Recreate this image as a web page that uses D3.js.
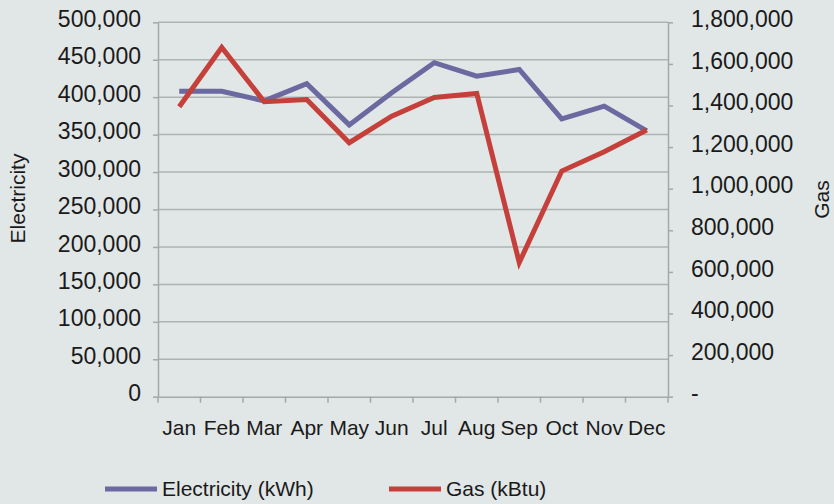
<!DOCTYPE html>
<html>
<head>
<meta charset="utf-8">
<script src="https://cdn.jsdelivr.net/npm/d3@7"></script>
<style>
  body { margin: 0; background: #e1e6e6; }
  svg { display: block; font-family: "Liberation Sans", Arial, sans-serif; }
</style>
</head>
<body>
<svg></svg>
<script>
// Defining variables
const width = 834
const height = 504
const plotLeft = 158
const plotRight = 668
const plotTop = 22.3
const plotBottom = 396.7

const months = ['Jan', 'Feb', 'Mar', 'Apr', 'May', 'Jun', 'Jul', 'Aug', 'Sep', 'Oct', 'Nov', 'Dec']
const electricity = [408000, 408000, 395000, 418000, 363000, 406000, 446000, 428000, 437000, 371000, 388000, 355000]
const gas = [1394000, 1679000, 1418000, 1429000, 1221000, 1349000, 1439000, 1458000, 645000, 1085000, 1178000, 1282000]
const elecTicks = [0, 50000, 100000, 150000, 200000, 250000, 300000, 350000, 400000, 450000, 500000]
const gasTicks = [0, 200000, 400000, 600000, 800000, 1000000, 1200000, 1400000, 1600000, 1800000]
const seriesNames = ['Electricity (kWh)', 'Gas (kBtu)']

const elecColor = '#6a69a0'
const gasColor = '#c5403a'
const gridColor = '#adb2b2'
const textColor = '#1a1a1a'
const fontSize = 21
const tickFontSize = 23

// Creating svg canvas
const svg = d3.select('svg')
                .attr('width', width)
                .attr('height', height)

// Scales
const xScale = d3.scaleBand()
                .domain(months)
                .range([plotLeft, plotRight])
                .padding(0)

const yLeft = d3.scaleLinear()
                .domain([0, 500000])
                .range([plotBottom, plotTop])

const yRight = d3.scaleLinear()
                .domain([0, 1800000])
                .range([plotBottom, plotTop])

const fmt = d3.format(',')

// Gridlines
svg.append('g')
    .selectAll('line')
    .data(elecTicks.filter(d => d > 0))
    .enter()
    .append('line')
    .attr('x1', plotLeft)
    .attr('x2', plotRight)
    .attr('y1', d => yLeft(d))
    .attr('y2', d => yLeft(d))
    .attr('stroke', gridColor)
    .attr('stroke-width', 1.5)

let styleAxis = (g, size) => {
    g.select('.domain').attr('stroke', '#a3a8a8').attr('stroke-width', 1.5)
    g.selectAll('.tick line').attr('stroke', '#a3a8a8').attr('stroke-width', 1.5)
    g.selectAll('text')
        .attr('fill', textColor)
        .style('font-size', size + 'px')
}

// Left axis
let yAxisLeft = d3.axisLeft(yLeft)
                .tickValues(elecTicks)
                .tickFormat(fmt)
                .tickSizeInner(5)
                .tickSizeOuter(0)
                .tickPadding(12)
svg.append('g')
    .attr('id', 'y-axis-left')
    .attr('transform', 'translate(' + plotLeft + ', 0)')
    .call(yAxisLeft)
    .call(styleAxis, tickFontSize)
    .selectAll('text').attr('dy', '0.18em')

// Right axis
let yAxisRight = d3.axisRight(yRight)
                .tickValues(gasTicks)
                .tickFormat(d => d === 0 ? '-' : fmt(d))
                .tickSizeInner(5)
                .tickSizeOuter(0)
                .tickPadding(18)
svg.append('g')
    .attr('id', 'y-axis-right')
    .attr('transform', 'translate(' + plotRight + ', 0)')
    .call(yAxisRight)
    .call(styleAxis, tickFontSize)
    .selectAll('text').attr('dy', '0.18em')

// Bottom axis, ticks between categories
let xAxis = d3.axisBottom(xScale).tickSize(0).tickPadding(0)
let xg = svg.append('g')
    .attr('id', 'x-axis')
    .attr('transform', 'translate(0, ' + plotBottom + ')')
    .call(xAxis)
    .call(styleAxis, fontSize)
xg.selectAll('text').attr('y', 38.3).attr('dy', 0)
xg.selectAll('.boundary')
    .data(months.map(m => xScale(m)).concat([plotRight]))
    .enter()
    .append('line')
    .attr('class', 'boundary')
    .attr('x1', d => d)
    .attr('x2', d => d)
    .attr('y1', 0)
    .attr('y2', 6)
    .attr('stroke', '#a3a8a8')
    .attr('stroke-width', 1.5)

// Lines
const cx = m => xScale(m) + xScale.bandwidth() / 2

let elecLine = d3.line()
                .x((d, i) => cx(months[i]))
                .y(d => yLeft(d))
let gasLine = d3.line()
                .x((d, i) => cx(months[i]))
                .y(d => yRight(d))

svg.append('path')
    .datum(electricity)
    .attr('d', elecLine)
    .attr('fill', 'none')
    .attr('stroke', elecColor)
    .attr('stroke-width', 5)

svg.append('path')
    .datum(gas)
    .attr('d', gasLine)
    .attr('fill', 'none')
    .attr('stroke', gasColor)
    .attr('stroke-width', 5)

// Axis titles
svg.append('text')
    .attr('transform', 'translate(25, 198.5) rotate(-90)')
    .attr('text-anchor', 'middle')
    .attr('fill', textColor)
    .style('font-size', fontSize + 'px')
    .text('Electricity')

svg.append('text')
    .attr('transform', 'translate(829, 199.5) rotate(-90)')
    .attr('text-anchor', 'middle')
    .attr('fill', textColor)
    .style('font-size', fontSize + 'px')
    .text('Gas')

// Legend
const legendX = [105, 389]
const legendColors = [elecColor, gasColor]
let legend = svg.append('g')
                .selectAll('g')
                .data(seriesNames)
                .enter()
                .append('g')
                .attr('transform', (d, i) => 'translate(' + legendX[i] + ', 489)')
legend.append('line')
    .attr('x1', 0)
    .attr('x2', 52)
    .attr('stroke', (d, i) => legendColors[i])
    .attr('stroke-width', 5)
legend.append('text')
    .attr('x', 57)
    .attr('dy', '0.35em')
    .attr('fill', textColor)
    .style('font-size', fontSize + 'px')
    .text(d => d)
</script>
</body>
</html>
